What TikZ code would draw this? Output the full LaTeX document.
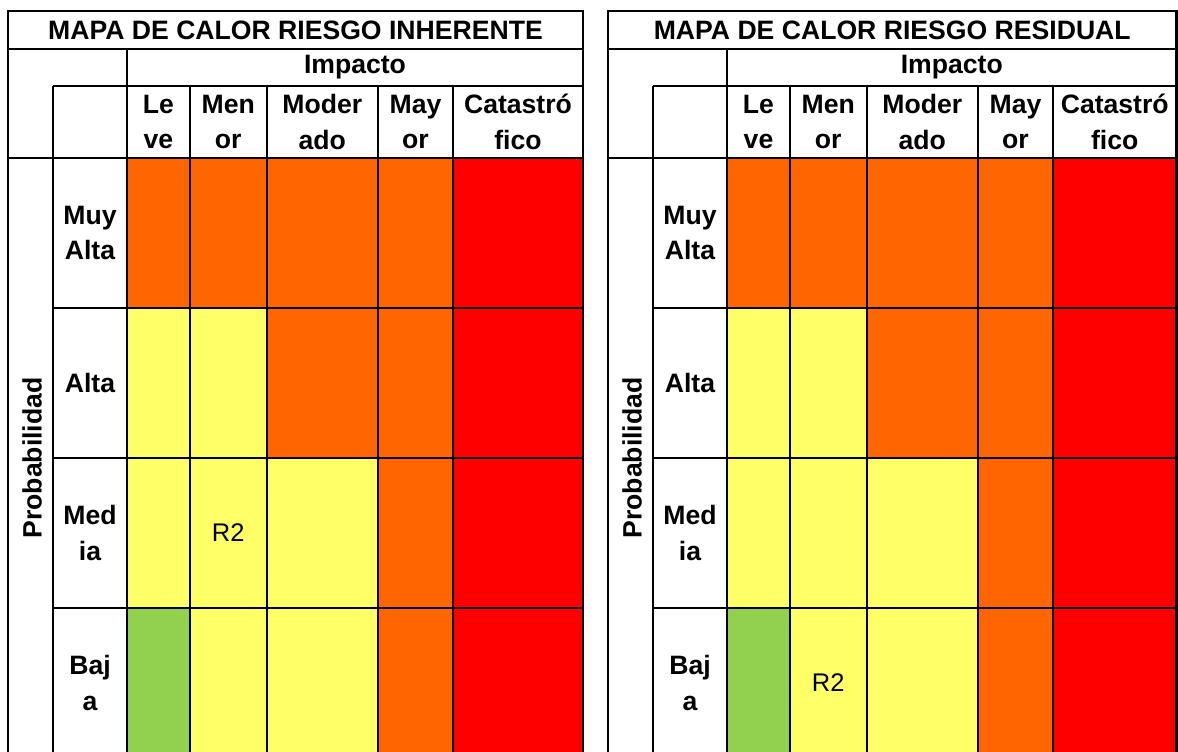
\documentclass[tikz,border=0pt]{standalone}
\usepackage{fontspec}
\setmainfont{Liberation Sans}
\definecolor{riskred}{HTML}{FF0000}
\definecolor{riskorange}{HTML}{FF6600}
\definecolor{riskyellow}{HTML}{FFFF66}
\definecolor{riskgreen}{HTML}{92D050}
\tikzset{
  grid line/.style={line width=2pt},
  frame line/.style={line width=2.8pt},
  head/.style={font=\fontsize{26.6}{35.5}\selectfont\bfseries, align=center, inner sep=0pt},
  riskmark/.style={font=\fontsize{25.5}{28}\selectfont, inner sep=0pt}
}
\begin{document}
\begin{tikzpicture}[x=1pt,y=-1pt]
    \useasboundingbox[fill=white] (0,0) rectangle (1178,752);
    \foreach \xo/\W/\titulo/\ry [count=\m] in {8/575/INHERENTE/533, 608/568.5/RESIDUAL/683}{
    \begin{scope}[xshift=\xo pt]
    % colour cells
    \fill[riskorange] (119,158) rectangle (445,308);
    \fill[riskyellow] (119,308) rectangle (258.5,458);
    \fill[riskorange] (258.5,308) rectangle (445,458);
    \fill[riskyellow] (119,458) rectangle (370,608);
    \fill[riskorange] (370,458) rectangle (445,608);
    \fill[riskgreen] (119,608) rectangle (182,752);
    \fill[riskyellow] (182,608) rectangle (370,752);
    \fill[riskorange] (370,608) rectangle (445,752);
    \fill[riskred] (445,158) rectangle (\W,752);
    % grid
    \draw[grid line] (45,86) -- (\W,86);
    \draw[grid line] (0,158) -- (\W,158);
    \foreach \y in {308,458,608}
        \draw[grid line] (45,\y) -- (\W,\y);
    \draw[grid line] (45,86) -- (45,752);
    \draw[grid line] (119,49) -- (119,752);
    \foreach \x in {182,258.5,370,445}
        \draw[grid line] (\x,86) -- (\x,752);
    % frame
    \draw[frame line] (0,49) -- (\W,49);
    \draw[frame line] (0,752) -- (0,11) -- (\W,11) -- (\W,752);
    % titles
    \node[head] (titulo\m) at ({\W/2},30) {MAPA DE CALOR RIESGO \titulo};
    \node[head] (impacto\m) at ({(119+\W)/2},67.5) {Impacto};
    \node[head,rotate=90] (prob\m) at (24,458) {Probabilidad};
    % impact columns
    \node[head] (leve\m) at (150.5,122) {Le\\ve};
    \node[head] (menor\m) at (220.25,122) {Men\\or};
    \node[head] (moderado\m) at (314.25,122) {Moder\\ado};
    \node[head] (mayor\m) at (407.5,122) {May\\or};
    \node[head] (catastrofico\m) at ({(445+\W)/2},122) {Catastró\\fico};
    % probability rows
    \node[head] (muyalta\m) at (82,233) {Muy\\Alta};
    \node[head] (alta\m) at (82,383) {Alta};
    \node[head] (media\m) at (82,533) {Med\\ia};
    \node[head] (baja\m) at (82,683) {Baj\\a};
    % risk
    \node[riskmark] (rdos\m) at (220.25,\ry) {R2};
    \end{scope}
    }
\end{tikzpicture}
\end{document}
